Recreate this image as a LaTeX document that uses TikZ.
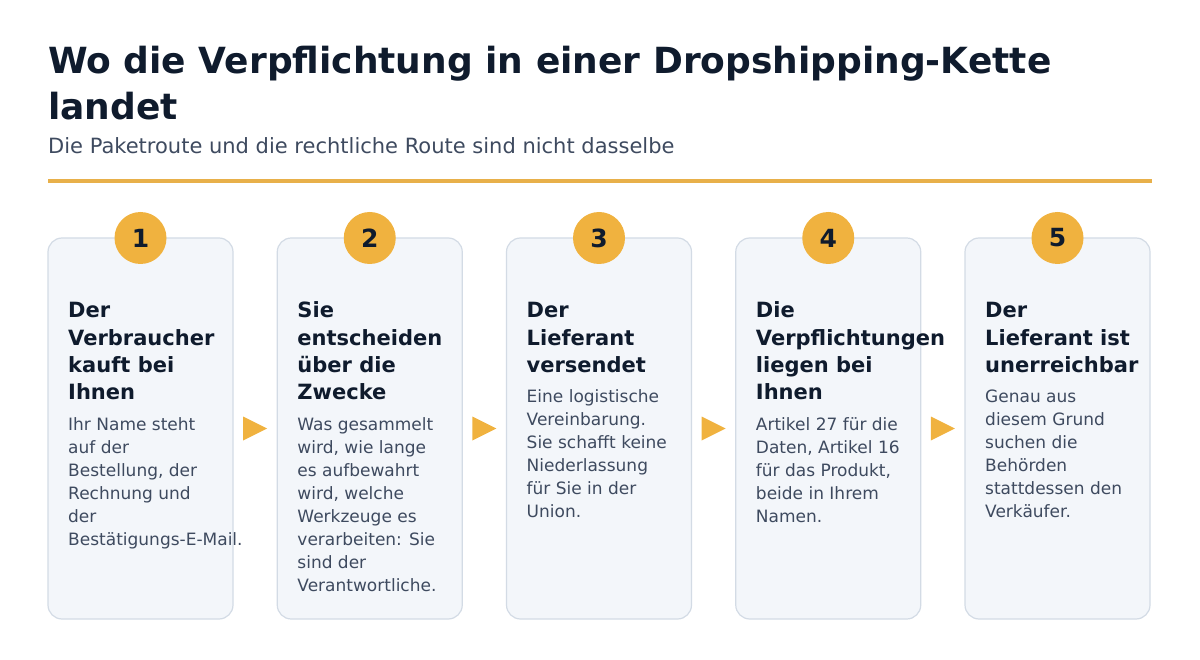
\documentclass[tikz,border=0pt]{standalone}
\usepackage{fontspec}
\setmainfont{DejaVu Sans}
\usetikzlibrary{calc,positioning}

\definecolor{navy}{HTML}{0F1B2D}
\definecolor{slate}{HTML}{3E4A5F}
\definecolor{gold}{HTML}{F0B23F}
\definecolor{goldline}{HTML}{E8B04A}
\definecolor{cardfill}{HTML}{F3F6FA}
\definecolor{cardline}{HTML}{D3DBE5}

\tikzset{
  card/.style={draw=cardline,line width=1.2pt,fill=cardfill,rounded corners=14pt,
    minimum width=185pt,minimum height=381pt,inner sep=0pt,outer sep=0pt},
  badge/.style={circle,fill=gold,minimum size=52pt,inner sep=0pt,text=navy,
    font=\fontsize{25}{25}\selectfont\bfseries},
  head/.style={anchor=base west,align=left,inner sep=0pt,text=navy,
    font=\fontsize{21}{27.3}\selectfont\bfseries},
  body/.style={anchor=base west,align=left,inner sep=0pt,text=slate,
    font=\fontsize{17}{23}\selectfont},
}

\begin{document}
\begin{tikzpicture}[x=1pt,y=-1pt]
\useasboundingbox (0,0) rectangle (1200,660);

% title block (base = last line)
\node[anchor=base west,align=left,inner sep=0pt,text=navy,
  font=\fontsize{36}{46}\selectfont\bfseries] (title) at (48,120)
  {Wo die Verpflichtung in einer Dropshipping-Kette\\landet};
\node[anchor=base west,inner sep=0pt,text=slate,font=\fontsize{21}{24}\selectfont]
  (subtitle) at (48,154) {Die Paketroute und die rechtliche Route sind nicht dasselbe};
\draw[goldline,line width=4pt] (48,181)--(1152,181);

\node[card] (card1) at (140.5,428.5) {};
\node[card,right=44.25pt of card1] (card2) {};
\node[card,right=44.25pt of card2] (card3) {};
\node[card,right=44.25pt of card3] (card4) {};
\node[card,right=44.25pt of card4] (card5) {};

\node[badge] (num1) at (card1.north) {1};
\node[badge] (num2) at (card2.north) {2};
\node[badge] (num3) at (card3.north) {3};
\node[badge] (num4) at (card4.north) {4};
\node[badge] (num5) at (card5.north) {5};

\node[head] (head1) at ($(card1.north west)+(20,161.6)$) {Der\\Verbraucher\\kauft bei\\Ihnen};
\node[head] (head2) at ($(card2.north west)+(20,161.6)$) {Sie\\entscheiden\\über die\\Zwecke};
\node[head] (head3) at ($(card3.north west)+(20,134.3)$) {Der\\Lieferant\\versendet};
\node[head] (head4) at ($(card4.north west)+(20,161.6)$) {Die\\Verpflichtungen\\liegen bei\\Ihnen};
\node[head] (head5) at ($(card5.north west)+(20,134.3)$) {Der\\Lieferant ist\\unerreichbar};

\node[body] (text1) at ($(head1.base west)+(0,145.4)$)
  {Ihr Name steht\\auf der\\Bestellung, der\\Rechnung und\\der\\Bestätigungs-E-Mail.};
\node[body] (text2) at ($(head2.base west)+(0,191.4)$)
  {Was gesammelt\\wird, wie lange\\es aufbewahrt\\wird, welche\\Werkzeuge es\\verarbeiten: Sie\\sind der\\Verantwortliche.};
\node[body] (text3) at ($(head3.base west)+(0,145.4)$)
  {Eine logistische\\Vereinbarung.\\Sie schafft keine\\Niederlassung\\für Sie in der\\Union.};
\node[body] (text4) at ($(head4.base west)+(0,122.4)$)
  {Artikel 27 für die\\Daten, Artikel 16\\für das Produkt,\\beide in Ihrem\\Namen.};
\node[body] (text5) at ($(head5.base west)+(0,145.4)$)
  {Genau aus\\diesem Grund\\suchen die\\Behörden\\stattdessen den\\Verkäufer.};

% arrows between the cards
\coordinate (gap12) at ($(card1.east)!0.5!(card2.west)$);
\coordinate (gap23) at ($(card2.east)!0.5!(card3.west)$);
\coordinate (gap34) at ($(card3.east)!0.5!(card4.west)$);
\coordinate (gap45) at ($(card4.east)!0.5!(card5.west)$);
\fill[gold] (gap12) ++(-12,-12) -- ++(24,12) -- ++(-24,12) -- cycle;
\fill[gold] (gap23) ++(-12,-12) -- ++(24,12) -- ++(-24,12) -- cycle;
\fill[gold] (gap34) ++(-12,-12) -- ++(24,12) -- ++(-24,12) -- cycle;
\fill[gold] (gap45) ++(-12,-12) -- ++(24,12) -- ++(-24,12) -- cycle;
\end{tikzpicture}
\end{document}
